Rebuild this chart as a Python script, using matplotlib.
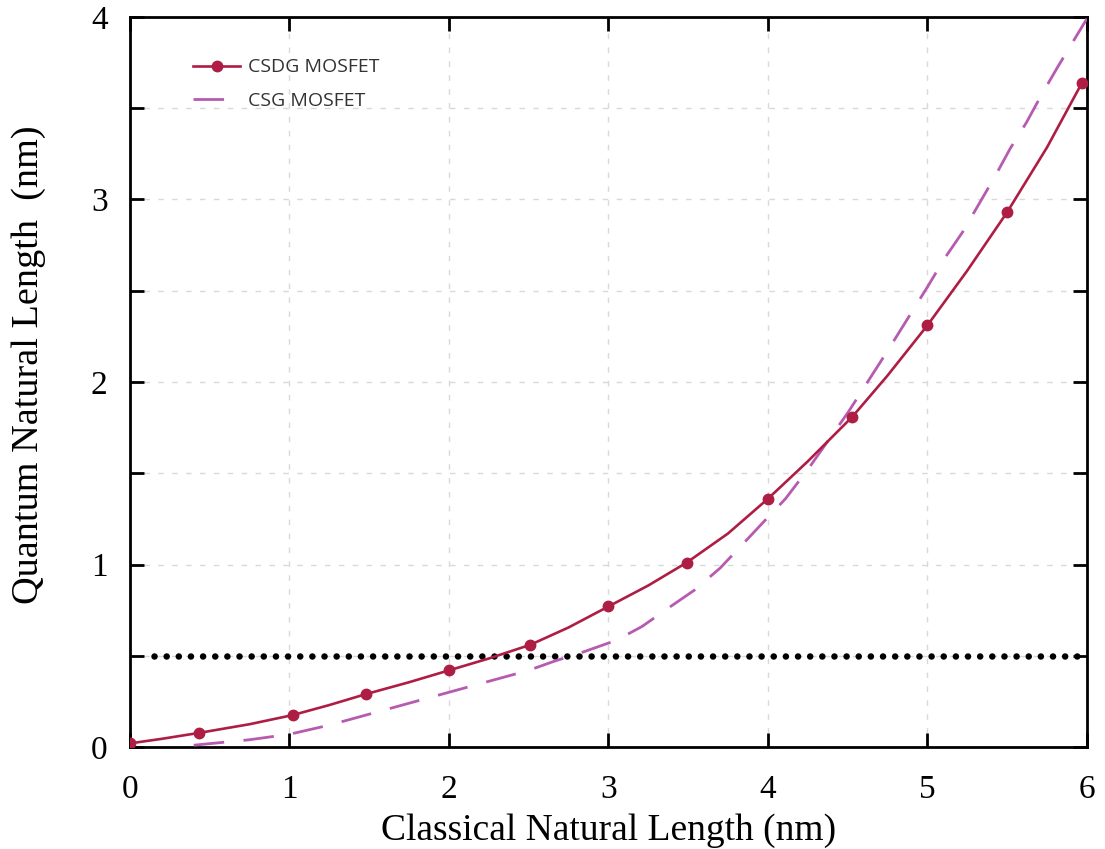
import matplotlib
matplotlib.use("Agg")
import matplotlib.pyplot as plt
from matplotlib.ticker import MultipleLocator

# CSDG MOSFET (solid line)
csdg_x = [0.0, 0.2, 0.43, 0.75, 1.02, 1.25, 1.48, 1.75, 2.0, 2.25, 2.51, 2.75, 3.0,
          3.25, 3.49, 3.75, 4.0, 4.25, 4.53, 4.75, 5.0, 5.25, 5.5, 5.75, 5.97]
csdg_y = [0.02, 0.045, 0.077, 0.125, 0.175, 0.23, 0.29, 0.355, 0.42, 0.485, 0.56, 0.655, 0.77,
          0.885, 1.01, 1.17, 1.36, 1.565, 1.81, 2.035, 2.31, 2.61, 2.93, 3.285, 3.64]
# indices of the points that carry a marker
csdg_marker_idx = [0, 2, 4, 6, 8, 10, 12, 14, 16, 18, 20, 22, 24]

# CSG MOSFET (dashed)
csg_x = [0.4, 0.75, 1.0, 1.25, 1.5, 1.75, 2.0, 2.25, 2.5, 2.66, 2.84, 3.05, 3.21, 3.39,
         3.54, 3.7, 3.83, 3.98, 4.11, 4.25, 4.5, 4.75, 4.9, 5.0, 5.11, 5.22, 5.32, 5.42,
         5.52, 5.62, 5.72, 5.82, 6.0]
csg_y = [0.01, 0.04, 0.07, 0.12, 0.18, 0.24, 0.30, 0.36, 0.42, 0.47, 0.52, 0.585, 0.66, 0.77,
         0.86, 0.98, 1.10, 1.24, 1.36, 1.52, 1.83, 2.17, 2.38, 2.52, 2.68, 2.82, 2.97, 3.12,
         3.28, 3.42, 3.58, 3.73, 3.99]

thresh_x = [0.15, 6.0]
thresh_y = [0.5, 0.5]

x_ticks = [0, 1, 2, 3, 4, 5, 6]
y_ticks = [0, 1, 2, 3, 4]

fig = plt.figure(figsize=(11.05, 8.49), dpi=100)
ax = fig.add_axes([0.1176, 0.1201, 0.866, 0.86])

ax.plot(thresh_x, thresh_y, color="black", linestyle=(0, (0.01, 1.85)), lw=4.7,
        dash_capstyle="round", zorder=2)
ax.plot(csg_x, csg_y, color="#B65BB0", lw=2, dashes=(11, 7), label="CSG MOSFET", zorder=3)
ax.plot(csdg_x, csdg_y, color="#AE1D44", lw=1.9, marker="o", ms=7.5,
        markevery=csdg_marker_idx, label="CSDG MOSFET", zorder=4)

ax.set_xlim(0, 6)
ax.set_ylim(0, 4)
ax.set_xticks(x_ticks)
ax.set_yticks(y_ticks)
ax.yaxis.set_minor_locator(MultipleLocator(0.5))

ax.grid(True, which="major", axis="x", color="#d9d9d9", linestyle=(0, (4, 6)), lw=1)
ax.grid(True, which="both", axis="y", color="#d9d9d9", linestyle=(0, (4, 6)), lw=1)

serif = ["Liberation Serif", "DejaVu Serif"]
ax.tick_params(which="both", direction="in", top=True, right=True, width=2,
               length=10, labelsize=24)
ax.tick_params(axis="x", pad=20)
ax.tick_params(axis="y", pad=16)
for lab in ax.get_xticklabels() + ax.get_yticklabels():
    lab.set_family(serif)
for s in ax.spines.values():
    s.set_linewidth(2)

ax.set_xlabel("Classical Natural Length (nm)", fontsize=27, family=serif, labelpad=6)
ax.set_ylabel("Quantum Natural Length  (nm)", fontsize=27.5, family=serif)
ax.yaxis.set_label_coords(-0.088, 0.523)

lines = ax.get_lines()
leg = ax.legend(handles=[lines[2], lines[1]], loc="upper left",
                bbox_to_anchor=(0.048, 0.967), frameon=False,
                prop={"family": ["Open Sans", "DejaVu Sans"], "size": 14},
                handlelength=2.4, handletextpad=0.4, labelspacing=0.8)
for t in leg.get_texts():
    t.set_color("#333333")

fig.savefig("out.png", dpi=100)
